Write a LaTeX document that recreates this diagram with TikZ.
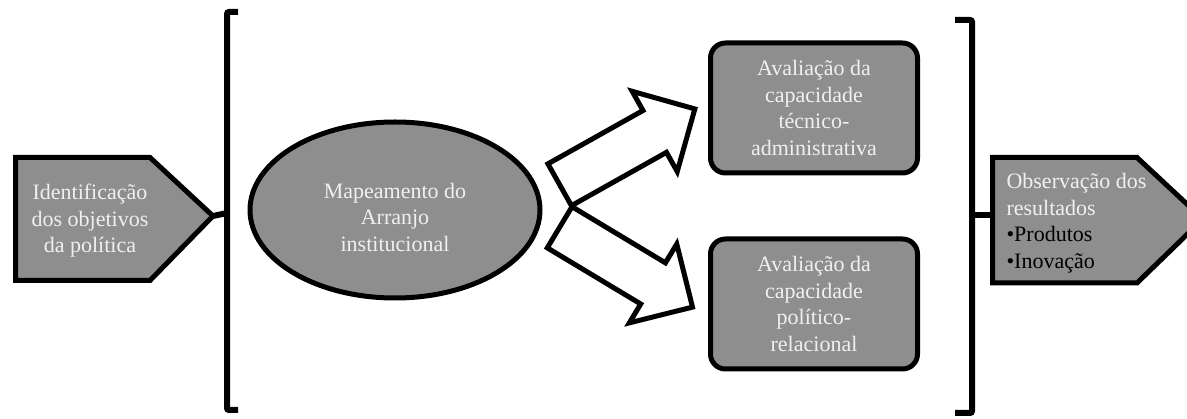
\documentclass[tikz,border=0pt]{standalone}
\usepackage{fontspec}
\setmainfont{Liberation Serif}
\usetikzlibrary{shapes.geometric,shapes.arrows,positioning}
\definecolor{boxgray}{HTML}{8E8E8E}
\definecolor{boxtext}{HTML}{F0F0F0}
\newcommand{\tw}[1]{\textcolor{boxtext}{#1}}

\begin{document}
\begin{tikzpicture}[x=1pt,y=-1pt,line join=miter,
    shape line/.style={draw=black,line width=5pt,fill=boxgray},
    label text/.style={text=boxtext,font=\fontsize{22}{26.5}\selectfont,align=center},
    stage/.style={shape line,rounded corners=15pt,minimum width=207pt,minimum height=130pt,label text},
    bracket/.style={draw=black,line width=6pt,rounded corners=2pt},
    flow/.style={single arrow,draw=black,line width=5pt,fill=white,inner xsep=0pt,inner ysep=21.5pt,
                 single arrow head extend=22pt,minimum height=155pt}]
    \useasboundingbox (0,0) rectangle (1187,419);
    % brackets
    \coordinate (lb) at (227,213);
    \coordinate (rb) at (972,215);
    \draw[bracket] (238,12) -- (227,12) -- (227,410) -- (238,410);
    \draw[bracket] (955,20) -- (972,20) -- (972,413) -- (955,413);
    % left pentagon
    \coordinate (ltip) at (213,216);
    \draw[bracket,rounded corners=0pt] (ltip) -- (lb);
    \draw[shape line] (15.5,157.5) -- (150,157.5) -- (ltip) -- (150,280.5) -- (15.5,280.5) -- cycle;
    \node[label text] (goal) at (90,221) {Identificação\\dos objetivos\\da política};
    % right pentagon
    \coordinate (rin) at (992.5,215);
    \draw[bracket,rounded corners=0pt] (rb) -- (rin);
    \draw[shape line] (992.5,157.5) -- (1137,157.5) -- (1203,219) -- (1137,283) -- (992.5,283) -- cycle;
    \node[label text,text=black,align=left,anchor=west] (result) at (1003,223)
        {\tw{Observação dos}\\\tw{resultados}\\•Produtos\\•Inovação};
    % mapping
    \node[ellipse,shape line,minimum width=290pt,minimum height=176pt] (map) at (395,210) {};
    \node[label text] (maptext) at (395,217) {Mapeamento do\\Arranjo\\institucional};
    % evaluations
    \node[stage] (tech) at (814,108) {Avaliação da\\capacidade\\técnico-\\administrativa};
    \node[stage] (pol) at (814,304) {Avaliação da\\capacidade\\político-\\relacional};
    % block arrows
    \node[flow,rotate=29.3,anchor=tail] (totech) at (557.5,186) {};
    \node[flow,rotate=-31,anchor=tail] (topol) at (557.5,226) {};
\end{tikzpicture}
\end{document}
